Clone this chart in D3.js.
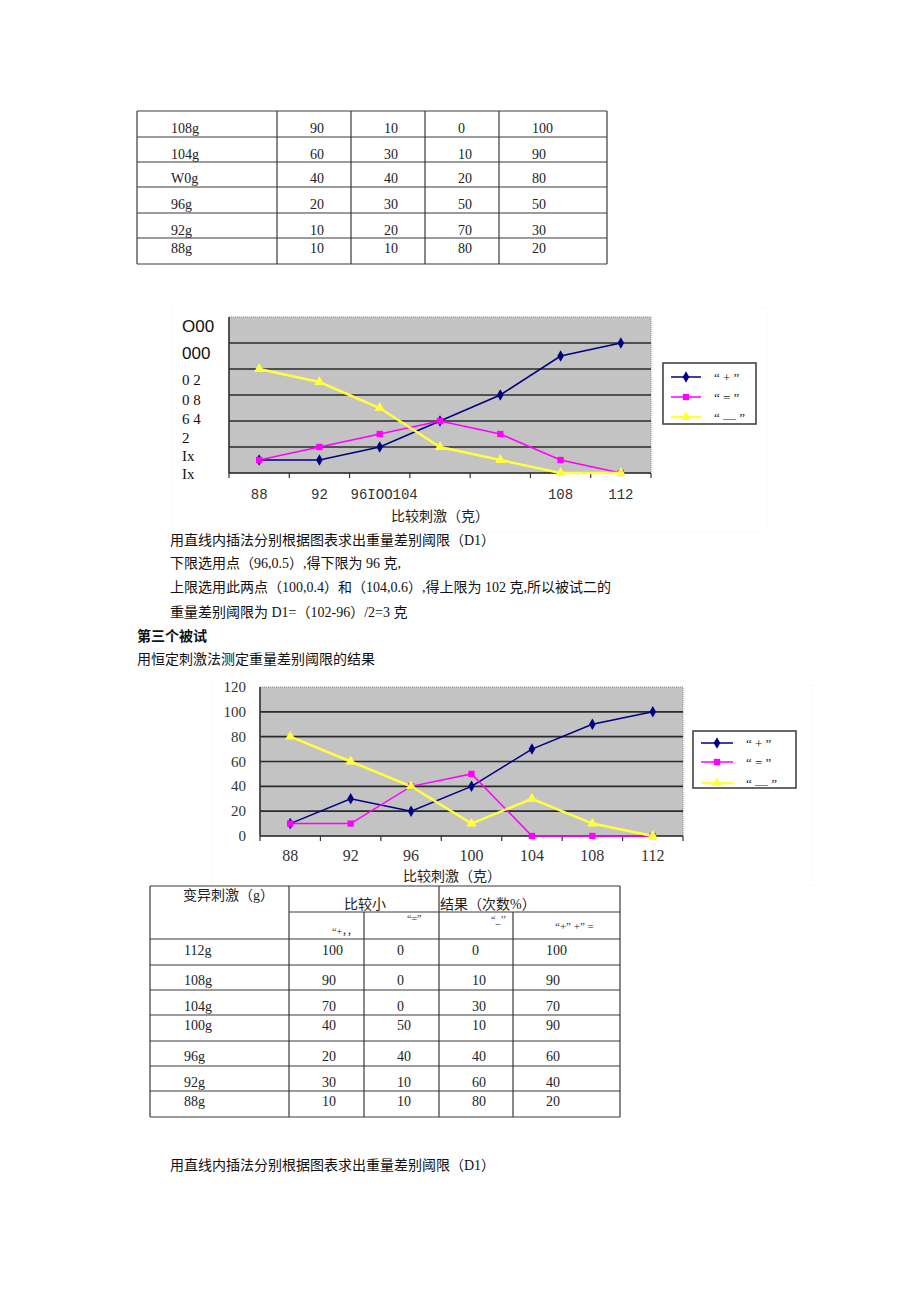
<!DOCTYPE html>
<html><head><meta charset="utf-8">
<script src="https://cdn.jsdelivr.net/npm/d3@7"></script>
<style>
body{margin:0;background:#fff;}
svg{display:block;}
</style></head>
<body>
<script>
// ---------- DATA ----------
const categories = [88, 92, 96, 100, 104, 108, 112];
const seriesNames = ["“ + ”", "“ = ”", "“ — ”"];
// subject 2 (chart 1)
const s2Plus  = [10, 10, 20, 40, 60, 90, 100];
const s2Equal = [10, 20, 30, 40, 30, 10, 0];
const s2Minus = [80, 70, 50, 20, 10, 0, 0];
// subject 3 (chart 2)
const s3Plus  = [10, 30, 20, 40, 70, 90, 100];
const s3Equal = [10, 10, 40, 50, 0, 0, 0];
const s3Minus = [80, 60, 40, 10, 30, 10, 0];
// chart 1 tick labels (as printed)
const chart1XLabels = ["88", "92", "96IOO104", "", "", "108", "112"];
const chart1YLabels = ["O00", "000", "0 2", "0 8", "6 4", "2", "Ix", "Ix"];
const chart2YTicks = [0, 20, 40, 60, 80, 100, 120];
const axisTitle = "比较刺激（克）";
// tables
const table1Labels = ["108g", "104g", "W0g", "96g", "92g", "88g"];
const table1Plus   = [90, 60, 40, 20, 10, 10];
const table1Equal  = [10, 30, 40, 30, 20, 10];
const table1Minus  = [0, 10, 20, 50, 70, 80];
const table1Sum    = [100, 90, 80, 50, 30, 20];
const table2Labels = ["112g", "108g", "104g", "100g", "96g", "92g", "88g"];
const table2Plus   = [100, 90, 70, 40, 20, 30, 10];
const table2Equal  = [0, 0, 0, 50, 40, 10, 10];
const table2Minus  = [0, 10, 30, 10, 40, 60, 80];
const table2Sum    = [100, 90, 70, 90, 60, 40, 20];
const paragraph1 = [
  "用直线内插法分别根据图表求出重量差别阈限（D1）",
  "下限选用点（96,0.5）,得下限为 96 克,",
  "上限选用此两点（100,0.4）和（104,0.6）,得上限为 102 克,所以被试二的",
  "重量差别阈限为 D1=（102-96）/2=3 克"
];
const heading3 = "第三个被试";
const subtitle3 = "用恒定刺激法测定重量差别阈限的结果";
const finalLine = "用直线内插法分别根据图表求出重量差别阈限（D1）";

// ---------- DRAW ----------
const W = 920, H = 1301;
const svg = d3.select("body").append("svg").attr("width", W).attr("height", H);
svg.append("rect").attr("width", W).attr("height", H).attr("fill", "#fff");

const SERIF = "'Liberation Serif','Noto Sans CJK SC',serif";
const CJK = "'Liberation Serif','Noto Sans CJK SC',sans-serif";
const colors = ["#000080", "#ff00ff", "#ffff40"];
const lineW = [1.5, 1.5, 2.5];
const symbols = [d3.symbolDiamond, d3.symbolSquare, d3.symbolTriangle];
const symSize = [38, 40, 45];

function drawTable(g, colEdges, rowEdges, rows, textCenters, labelX, valueOffset) {
  const stroke = "#3a3a3a";
  rowEdges.forEach(y => g.append("line").attr("x1", colEdges[0]).attr("x2", colEdges[colEdges.length-1])
      .attr("y1", y).attr("y2", y).attr("stroke", stroke).attr("stroke-width", 1.2));
  colEdges.forEach(x => g.append("line").attr("x1", x).attr("x2", x)
      .attr("y1", rowEdges[0]).attr("y2", rowEdges[rowEdges.length-1]).attr("stroke", stroke).attr("stroke-width", 1.2));
  rows.forEach((r, i) => {
    const y = textCenters[i] + 5;
    g.append("text").attr("x", labelX).attr("y", y).text(r[0])
      .attr("font-family", SERIF).attr("font-size", 14).attr("fill", "#222");
    for (let c = 1; c < r.length; c++) {
      g.append("text").attr("x", colEdges[c] + valueOffset).attr("y", y).text(r[c])
        .attr("font-family", SERIF).attr("font-size", 14).attr("fill", "#222");
    }
  });
}

// Table 1
const t1 = svg.append("g");
const t1rows = table1Labels.map((l, i) => [l, table1Plus[i], table1Equal[i], table1Minus[i], table1Sum[i]]);
drawTable(t1, [137, 277, 351, 425, 499, 607], [111, 137, 162, 187, 213, 238, 264], t1rows,
  [128, 154, 178, 204, 230, 248], 171, 33);

// ---------- chart function ----------
function drawChart(cfg) {
  const g = svg.append("g");
  const x = d3.scaleBand().domain(categories).range([cfg.x0, cfg.x1]).paddingInner(0).paddingOuter(0);
  const y = d3.scaleLinear().domain([0, 120]).range([cfg.y1, cfg.y0]);
  // outer faint dotted frame
  g.append("rect").attr("x", cfg.frame[0]).attr("y", cfg.frame[1]).attr("width", cfg.frame[2]).attr("height", cfg.frame[3])
    .attr("fill", "none").attr("stroke", "#ececec").attr("stroke-dasharray", "1,3");
  // plot background
  g.append("rect").attr("x", cfg.x0).attr("y", cfg.y0).attr("width", cfg.x1 - cfg.x0).attr("height", cfg.y1 - cfg.y0)
    .attr("fill", "#c3c3c3").attr("stroke", "#8a8a8a").attr("stroke-dasharray", "1,1").attr("stroke-width", 1);
  // gridlines
  [20, 40, 60, 80, 100].forEach(v => g.append("line").attr("x1", cfg.x0).attr("x2", cfg.x1)
    .attr("y1", y(v)).attr("y2", y(v)).attr("stroke", "#2a2a2a").attr("stroke-width", 1.6));
  // axes
  g.append("line").attr("x1", cfg.x0).attr("x2", cfg.x1).attr("y1", y(0)).attr("y2", y(0))
    .attr("stroke", "#222").attr("stroke-width", 1.6);
  g.append("line").attr("x1", cfg.x0).attr("x2", cfg.x0).attr("y1", y(120)).attr("y2", y(0))
    .attr("stroke", "#333").attr("stroke-width", 1.6);
  const bounds = categories.map(c => x(c)).concat([cfg.x1]);
  bounds.forEach(b => g.append("line").attr("x1", b).attr("x2", b).attr("y1", y(0)).attr("y2", y(0) + 5)
    .attr("stroke", "#333").attr("stroke-width", 1.2));
  // series
  const cx = c => x(c) + x.bandwidth() / 2;
  cfg.series.forEach((vals, si) => {
    const pts = categories.map((c, i) => [cx(c), y(vals[i])]);
    g.append("path").attr("d", d3.line()(pts)).attr("fill", "none")
      .attr("stroke", colors[si]).attr("stroke-width", lineW[si]);
  });
  cfg.series.forEach((vals, si) => {
    categories.forEach((c, i) => {
      g.append("path").attr("d", d3.symbol(symbols[si], symSize[si])())
        .attr("transform", `translate(${cx(c)},${y(vals[i])})`).attr("fill", colors[si]);
    });
  });
  // legend
  const L = cfg.legend;
  g.append("rect").attr("x", L.x).attr("y", L.y).attr("width", L.w).attr("height", L.h)
    .attr("fill", "#fff").attr("stroke", "#444").attr("stroke-width", 1.6);
  seriesNames.forEach((n, si) => {
    const yy = L.items[si];
    g.append("line").attr("x1", L.lx0).attr("x2", L.lx1).attr("y1", yy).attr("y2", yy)
      .attr("stroke", colors[si]).attr("stroke-width", lineW[si]);
    g.append("path").attr("d", d3.symbol(symbols[si], symSize[si])())
      .attr("transform", `translate(${(L.lx0 + L.lx1) / 2},${yy})`).attr("fill", colors[si]);
    g.append("text").attr("x", L.tx).attr("y", yy + 5).text(n)
      .attr("font-family", SERIF).attr("font-size", 13).attr("fill", "#222").style("white-space", "pre");
  });
  // axis title
  g.append("text").attr("x", cfg.titleX).attr("y", cfg.titleY).attr("text-anchor", "middle").text(axisTitle)
    .attr("font-family", CJK).attr("font-size", 14).attr("fill", "#222");
  return {g, x, y, cx};
}

// Chart 1 (subject 2)
const c1 = drawChart({
  x0: 229, x1: 651, y0: 317, y1: 473,
  frame: [172, 307, 595, 225],
  series: [s2Plus, s2Equal, s2Minus],
  legend: {x: 663, y: 363, w: 93, h: 61, items: [377, 397, 417], lx0: 671, lx1: 701, tx: 714},
  titleX: 440, titleY: 521
});
chart1XLabels.forEach((t, i) => {
  if (!t) return;
  const c = categories[i];
  const isLong = t.length > 3;
  c1.g.append("text").attr("x", isLong ? c1.x(c) + 1 : c1.cx(c)).attr("y", 499)
    .attr("text-anchor", isLong ? "start" : "middle").text(t)
    .attr("font-family", "'Liberation Mono',monospace").attr("font-size", 14).attr("fill", "#333");
});
const c1YPos = [327, 354, 380, 400, 419, 438, 456, 474];
chart1YLabels.forEach((t, i) => {
  c1.g.append("text").attr("x", 182).attr("y", c1YPos[i] + 5).text(t)
    .attr("font-family", i < 2 ? "'Liberation Sans',sans-serif" : SERIF)
    .attr("font-size", i < 2 ? 17 : 15).attr("fill", "#111")
    .style("white-space", "pre");
});

// Paragraph
const pg = svg.append("g");
paragraph1.forEach((t, i) => {
  pg.append("text").attr("x", 170).attr("y", [540, 563, 587, 612][i] + 5).text(t)
    .attr("font-family", CJK).attr("font-size", 14).attr("fill", "#111");
});
pg.append("text").attr("x", 137).attr("y", 641).text(heading3)
  .attr("font-family", CJK).attr("font-size", 14).attr("font-weight", "bold").attr("fill", "#111");
pg.append("text").attr("x", 137).attr("y", 664).text(subtitle3)
  .attr("font-family", CJK).attr("font-size", 14).attr("fill", "#111");

// Chart 2 (subject 3)
const c2 = drawChart({
  x0: 260, x1: 683, y0: 687, y1: 836,
  frame: [212, 680, 600, 205],
  series: [s3Plus, s3Equal, s3Minus],
  legend: {x: 693, y: 731, w: 103, h: 57, items: [743, 762, 783], lx0: 701, lx1: 733, tx: 746},
  titleX: 452, titleY: 881
});
categories.forEach(c => {
  c2.g.append("text").attr("x", c2.cx(c)).attr("y", 861).attr("text-anchor", "middle").text(c)
    .attr("font-family", SERIF).attr("font-size", 16).attr("fill", "#333");
});
chart2YTicks.forEach(v => {
  c2.g.append("text").attr("x", 246).attr("y", c2.y(v) + 5).attr("text-anchor", "end").text(v)
    .attr("font-family", SERIF).attr("font-size", 15).attr("fill", "#333");
});

// Table 2
const t2 = svg.append("g");
const t2cols = [150, 289, 364, 439, 513, 620];
const t2rowsEdges = [886, 939, 965, 990, 1015, 1041, 1066, 1091, 1117];
const stroke2 = "#3a3a3a";
t2rowsEdges.forEach(y => t2.append("line").attr("x1", 150).attr("x2", 620).attr("y1", y).attr("y2", y)
  .attr("stroke", stroke2).attr("stroke-width", 1.2));
t2.append("line").attr("x1", 289).attr("x2", 620).attr("y1", 912).attr("y2", 912).attr("stroke", stroke2).attr("stroke-width", 1.2);
t2cols.forEach((x, i) => t2.append("line").attr("x1", x).attr("x2", x)
  .attr("y1", (i === 2 || i === 4) ? 912 : 886).attr("y2", 1117).attr("stroke", stroke2).attr("stroke-width", 1.2));
const hdr = (x, y, t, fs) => t2.append("text").attr("x", x).attr("y", y).text(t)
  .attr("font-family", CJK).attr("font-size", fs).attr("fill", "#222").style("white-space", "pre");
hdr(183, 900, "变异刺激（g）", 14);
hdr(344, 909, "比较小", 14);
hdr(440, 909, "结果（次数%）", 14);
hdr(332, 935, "“+，，", 10);
hdr(407, 922, "“=”", 10);
hdr(491, 923, "“_’’", 10);
hdr(555, 930, "“+” +” =", 11);
const t2rows = table2Labels.map((l, i) => [l, table2Plus[i], table2Equal[i], table2Minus[i], table2Sum[i]]);
const t2centers = [950, 980, 1006, 1025, 1056, 1082, 1101];
t2rows.forEach((r, i) => {
  const y = t2centers[i] + 5;
  t2.append("text").attr("x", 184).attr("y", y).text(r[0]).attr("font-family", SERIF).attr("font-size", 14).attr("fill", "#222");
  for (let c = 1; c < 5; c++) {
    t2.append("text").attr("x", t2cols[c] + 33).attr("y", y).text(r[c])
      .attr("font-family", SERIF).attr("font-size", 14).attr("fill", "#222");
  }
});
svg.append("text").attr("x", 170).attr("y", 1170).text(finalLine)
  .attr("font-family", CJK).attr("font-size", 14).attr("fill", "#111");
</script>
</body></html>
